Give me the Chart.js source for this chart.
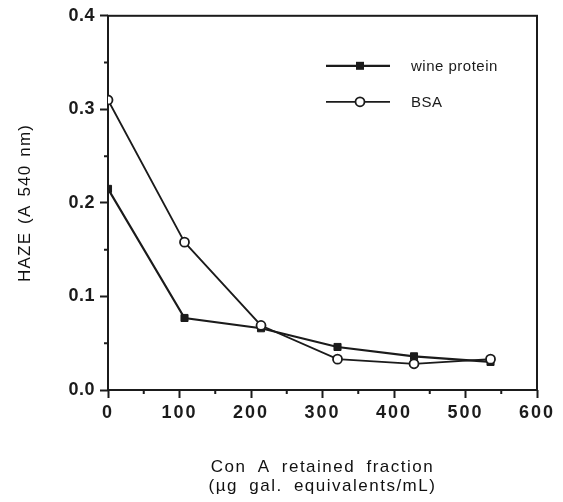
<!DOCTYPE html>
<html>
<head>
<meta charset="utf-8">
<title>Haze vs Con A retained fraction</title>
<script src="https://cdn.jsdelivr.net/npm/chart.js@4.4.1/dist/chart.umd.min.js"></script>
<style>
  html, body { margin: 0; padding: 0; background: #fff; }
  canvas { display: block; }
</style>
</head>
<body>
<canvas id="hazeChart" width="563" height="502"></canvas>
<script>
// x: Con A retained fraction (ug gal. equivalents/mL), y: haze (A 540 nm)
const conA = [0, 107, 214, 321, 428, 535];
const wineProtein = [0.215, 0.077, 0.066, 0.046, 0.036, 0.030];
const bsa = [0.310, 0.158, 0.069, 0.033, 0.028, 0.033];
const xTicks = [0, 100, 200, 300, 400, 500, 600];
const yTicks = [0.0, 0.1, 0.2, 0.3, 0.4];
const seriesNames = ['wine protein', 'BSA'];

const ink = '#1b1b1b';
const fontFamily = '"Liberation Sans", Arial, Helvetica, sans-serif';

function toPoints(ys) {
    return conA.map((x, i) => ({ x: x, y: ys[i] }));
}

// midpoints between labelled ticks get a short tick mark
function minorValues(ticks) {
    const out = [];
    for (let i = 0; i < ticks.length - 1; i++) out.push((ticks[i] + ticks[i + 1]) / 2);
    return out;
}

// typewriter-ish tracking: each axis gets its own letter/word spacing
function spaced(scale, tickLetters, titleLetters, titleWords) {
    if (scale._spaced) return;
    scale._spaced = true;
    const drawLabels = scale.drawLabels;
    const drawTitle = scale.drawTitle;
    scale.drawLabels = function (area) {
        const ctx = this.ctx;
        ctx.save();
        ctx.letterSpacing = tickLetters;
        ctx.wordSpacing = '0px';
        drawLabels.call(this, area);
        ctx.restore();
    };
    scale.drawTitle = function () {
        const ctx = this.ctx;
        ctx.save();
        ctx.letterSpacing = titleLetters;
        ctx.wordSpacing = titleWords;
        drawTitle.call(this);
        ctx.restore();
    };
}

// closed box round the plot + small minor ticks
const frame = {
    id: 'frame',
    beforeDatasetsDraw(chart) {
        const { ctx, chartArea, scales } = chart;
        ctx.save();
        ctx.strokeStyle = ink;
        ctx.lineWidth = 2;
        ctx.strokeRect(chartArea.left, chartArea.top,
            chartArea.right - chartArea.left, chartArea.bottom - chartArea.top);
        ctx.beginPath();
        minorValues(xTicks).forEach(v => {
            const px = scales.x.getPixelForValue(v);
            ctx.moveTo(px, chartArea.bottom);
            ctx.lineTo(px, chartArea.bottom + 4);
        });
        minorValues(yTicks).forEach(v => {
            const py = scales.y.getPixelForValue(v);
            ctx.moveTo(chartArea.left, py);
            ctx.lineTo(chartArea.left - 4, py);
        });
        ctx.stroke();
        ctx.restore();
    }
};

// line + marker legend sitting inside the upper right of the plot
const inlineLegend = {
    id: 'inlineLegend',
    afterDatasetsDraw(chart) {
        const { ctx, chartArea } = chart;
        const x0 = chartArea.left + 218;
        const x1 = x0 + 64;
        const xm = x0 + 34;
        ctx.save();
        ctx.letterSpacing = '0.5px';
        ctx.font = '15px ' + fontFamily;
        ctx.textBaseline = 'middle';
        chart.data.datasets.forEach((ds, i) => {
            const y = chartArea.top + 50 + i * 36;
            ctx.strokeStyle = ink;
            ctx.lineWidth = ds.borderWidth;
            ctx.beginPath();
            ctx.moveTo(x0, y);
            ctx.lineTo(x1, y);
            ctx.stroke();
            ctx.lineWidth = ds.pointBorderWidth;
            if (ds.pointStyle === 'rect') {
                ctx.fillStyle = ink;
                ctx.fillRect(xm - 4, y - 4, 8, 8);
            } else {
                ctx.fillStyle = '#fff';
                ctx.beginPath();
                ctx.arc(xm, y, ds.pointRadius, 0, Math.PI * 2);
                ctx.fill();
                ctx.stroke();
            }
            ctx.fillStyle = ink;
            ctx.fillText(ds.label, x1 + 21, y + 1);
        });
        ctx.restore();
    }
};

new Chart(document.getElementById('hazeChart'), {
    type: 'line',
    data: {
        datasets: [
            {
                label: seriesNames[0],
                data: toPoints(wineProtein),
                order: 1,
                borderColor: ink,
                borderWidth: 2.2,
                pointStyle: 'rect',
                pointRadius: 5,
                pointBorderWidth: 1,
                pointBackgroundColor: ink,
                pointBorderColor: ink
            },
            {
                label: seriesNames[1],
                data: toPoints(bsa),
                order: 0,
                borderColor: ink,
                borderWidth: 1.8,
                pointStyle: 'circle',
                pointRadius: 4.5,
                pointBorderWidth: 1.8,
                pointBackgroundColor: '#fff',
                pointBorderColor: ink
            }
        ]
    },
    options: {
        responsive: false,
        animation: false,
        devicePixelRatio: 1,
        layout: { padding: { top: 15, right: 26, bottom: 0, left: 0 } },
        plugins: {
            legend: { display: false },
            tooltip: { enabled: false }
        },
        elements: { line: { tension: 0 } },
        scales: {
            x: {
                type: 'linear',
                min: 0,
                max: 600,
                afterBuildTicks: s => { s.ticks = xTicks.map(v => ({ value: v })); },
                afterFit: s => { s.height = 112; spaced(s, '2px', '1.5px', '5px'); },
                border: { display: false },
                grid: {
                    drawOnChartArea: false,
                    tickLength: 8,
                    tickWidth: 2,
                    tickColor: ink
                },
                ticks: {
                    color: ink,
                    padding: 4,
                    maxRotation: 0,
                    font: { family: fontFamily, size: 18, weight: 'bold' }
                },
                title: {
                    display: true,
                    text: ['Con A retained fraction', '(\u00b5g gal. equivalents/mL)'],
                    color: '#111',
                    padding: { top: 0, bottom: 6.5 },
                    font: { family: fontFamily, size: 17, lineHeight: 1.12 }
                }
            },
            y: {
                type: 'linear',
                min: 0,
                max: 0.4,
                afterBuildTicks: s => { s.ticks = yTicks.map(v => ({ value: v })); },
                afterFit: s => { s.width = 108; spaced(s, '0.5px', '1.2px', '2px'); },
                border: { display: false },
                grid: {
                    drawOnChartArea: false,
                    tickLength: 8,
                    tickWidth: 2,
                    tickColor: ink
                },
                ticks: {
                    color: ink,
                    padding: 5,
                    callback: v => v.toFixed(1),
                    font: { family: fontFamily, size: 18, weight: 'bold' }
                },
                title: {
                    display: true,
                    text: 'HAZE (A 540 nm)',
                    color: '#111',
                    padding: { top: 14.8, bottom: 0 },
                    font: { family: fontFamily, size: 17 }
                }
            }
        }
    },
    plugins: [frame, inlineLegend]
});
</script>
</body>
</html>
